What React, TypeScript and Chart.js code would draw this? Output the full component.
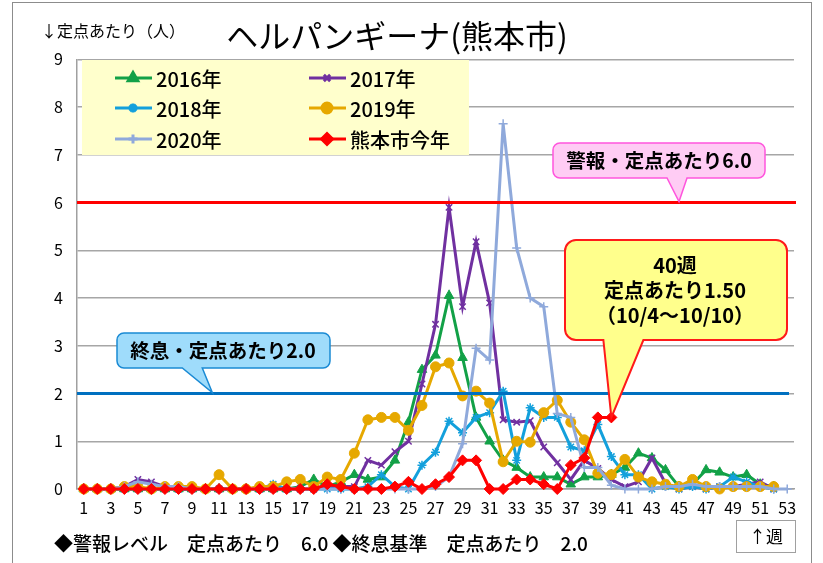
import React, { useEffect, useRef } from 'react';
import { Chart, registerables } from 'chart.js';
import { drawPoint } from 'chart.js/helpers';
Chart.register(...registerables);

const weeks = ['1','2','3','4','5','6','7','8','9','10','11','12','13','14','15','16','17','18','19','20','21','22','23','24','25','26','27','28','29','30','31','32','33','34','35','36','37','38','39','40','41','42','43','44','45','46','47','48','49','50','51','52','53'];

const y2016 = [0,0,0,0,0,0,0,0,0,0, 0,0,0,0,0,0,0.05,0.2,0.05,0.15, 0.3,0.2,0.25,0.6,1.4,2.5,2.8,4.05,2.75,1.5, 1.0,0.6,0.45,0.25,0.25,0.25,0.1,0.25,0.25,0.3, 0.45,0.75,0.65,0.4,0.05,0.1,0.4,0.35,0.25,0.3, 0.1,0.05];
const y2017 = [0,0,0,0.05,0.2,0.15,0.05,0,0,0, 0,0,0,0,0,0,0,0,0.05,0.05, 0.05,0.6,0.5,0.78,1.0,2.2,3.45,5.9,3.82,5.18, 3.9,1.45,1.4,1.43,0.88,0.55,0.2,0.6,0.43,0.2, 0.05,0.15,0.65,0.12,0,0.05,0,0.05,0.05,0.1, 0.15,0];
const y2018 = [0,0,0,0,0,0,0,0,0,0, 0,0,0,0,0.1,0,0,0,0,0, 0,0.05,0.3,0.05,0,0.5,0.77,1.42,1.18,1.5, 1.6,2.05,0.6,1.7,1.5,1.5,0.88,0.8,1.35,0.68, 0.3,0.3,0,0.05,0,0.05,0,0.05,0.25,0.15, 0.05,0];
const y2019 = [0,0,0,0.05,0.05,0,0.05,0.05,0.05,0, 0.3,0,0,0.05,0.05,0.15,0.2,0.05,0.25,0.2, 0.75,1.45,1.5,1.5,1.23,1.75,2.56,2.64,1.95,2.05, 1.8,0.57,1.0,0.98,1.6,1.86,1.4,1.03,0.33,0.3, 0.62,0.25,0.15,0.1,0.05,0.2,0.05,0,0.05,0.05, 0.05,0.05];
const y2020 = [0,0,0,0.05,0.15,0.1,0.05,0.05,0,0, 0,0,0,0,0,0,0,0,0,0, 0,0,0,0,0,0,0.05,0.25,0.95,2.95, 2.7,7.65,5.05,4.0,3.82,1.58,1.5,0.45,0.45,0.08, 0,0,0,0.05,0.05,0.1,0.05,0.05,0.05,0.05, 0.05,0,0];
const yCurrent = [0,0,0,0,0,0,0,0,0,0, 0,0,0,0,0,0,0,0,0.1,0.05, 0,0,0,0.05,0.15,0,0.1,0.25,0.6,0.6, 0,0,0.2,0.2,0.1,0,0.5,0.65,1.5,1.5];

const seriesLabels = ['2016年','2017年','2018年','2019年','2020年','熊本市今年'];
const yTickValues = [0,1,2,3,4,5,6,7,8,9];
const alertLevel = 6.0;
const endLevel = 2.0;
const titleText = 'ヘルパンギーナ(熊本市)';
const yAxisTitle = '↓定点あたり（人）';
const alertCallout = '警報・定点あたり6.0';
const endCallout = '終息・定点あたり2.0';
const currentCallout = ['40週', '定点あたり1.50', '（10/4～10/10）'];
const footerText = '◆警報レベル　定点あたり　6.0 ◆終息基準　定点あたり　2.0';
const weekLabel = '↑週';
const currentWeekIndex = 39;
const alertTipIndex = 44;
const endTipIndex = 9.5;

const FONT = '"Noto Sans CJK JP", "Noto Sans", sans-serif';

const styles = [
  { color: '#12a147', pointStyle: 'triangle', radius: 5.5, bw: 1 },
  { color: '#7030a0', pointStyle: 'crossRot', radius: 4.5, bw: 1.5 },
  { color: '#13a0dc', pointStyle: 'star', radius: 4.5, bw: 1.5 },
  { color: '#e6a800', pointStyle: 'circle', radius: 5, bw: 1 },
  { color: '#8fa9db', pointStyle: 'cross', radius: 4.5, bw: 1.5 },
  { color: '#ff0000', pointStyle: 'rectRot', radius: 5.5, bw: 1 },
];
const seriesData = [y2016, y2017, y2018, y2019, y2020, yCurrent];
const drawOrder = [5, 4, 3, 2, 1, 0];

function calloutPath(ctx: CanvasRenderingContext2D, x: number, y: number, w: number, h: number, r: number, b1: number, b2: number, tx: number, ty: number) {
  ctx.beginPath();
  ctx.moveTo(x + r, y);
  ctx.lineTo(x + w - r, y);
  ctx.arcTo(x + w, y, x + w, y + r, r);
  ctx.lineTo(x + w, y + h - r);
  ctx.arcTo(x + w, y + h, x + w - r, y + h, r);
  ctx.lineTo(b2, y + h);
  ctx.lineTo(tx, ty);
  ctx.lineTo(b1, y + h);
  ctx.lineTo(x + r, y + h);
  ctx.arcTo(x, y + h, x, y + h - r, r);
  ctx.lineTo(x, y + r);
  ctx.arcTo(x, y, x + r, y, r);
  ctx.closePath();
}

export default function App() {
  const ref = useRef<HTMLCanvasElement>(null);
  useEffect(() => {
    const canvas = ref.current!;
    const overlay = {
      id: 'overlay',
      afterDatasetsDraw(chart: any) {
        const ctx = chart.ctx as CanvasRenderingContext2D;
        const { left, right } = chart.chartArea;
        const ys = chart.scales.y;
        ctx.save();
        ctx.lineWidth = 3;
        ctx.strokeStyle = '#ff0000';
        ctx.beginPath();
        ctx.moveTo(left, ys.getPixelForValue(alertLevel));
        ctx.lineTo(right + 2, ys.getPixelForValue(alertLevel));
        ctx.stroke();
        ctx.strokeStyle = '#0070c0';
        ctx.beginPath();
        ctx.moveTo(left, ys.getPixelForValue(endLevel));
        ctx.lineTo(right - 5, ys.getPixelForValue(endLevel));
        ctx.stroke();
        ctx.restore();
      },
      afterDraw(chart: any) {
        const ctx = chart.ctx as CanvasRenderingContext2D;
        const xs = chart.scales.x;
        const ys = chart.scales.y;
        ctx.save();
        // frame
        ctx.strokeStyle = '#8c8c8c';
        ctx.lineWidth = 1;
        ctx.strokeRect(12.5, 2.5, 799, 580);

        // legend
        ctx.fillStyle = '#ffffcc';
        ctx.fillRect(82, 60, 387, 95);
        const cols = [115, 309];
        const rows = [78, 108, 139];
        for (let i = 0; i < 6; i++) {
          const cx = cols[i % 2];
          const cy = rows[Math.floor(i / 2)];
          const s = styles[i];
          ctx.strokeStyle = s.color;
          ctx.lineWidth = 3;
          ctx.beginPath();
          ctx.moveTo(cx, cy);
          ctx.lineTo(cx + 37, cy);
          ctx.stroke();
          ctx.fillStyle = s.color;
          ctx.strokeStyle = s.color;
          drawPoint(ctx, { pointStyle: s.pointStyle as any, radius: s.radius, rotation: 0, borderWidth: s.bw }, cx + 18, cy);
          ctx.fillStyle = '#000';
          ctx.font = `500 20px ${FONT}`;
          ctx.textBaseline = 'middle';
          ctx.textAlign = 'left';
          ctx.fillText(seriesLabels[i], cx + 41, cy + 1);
        }

        // y axis title
        ctx.fillStyle = '#000';
        ctx.font = `16px ${FONT}`;
        ctx.textBaseline = 'middle';
        ctx.textAlign = 'left';
        ctx.fillText(yAxisTitle, 41, 31);

        // alert callout
        const aTipX = xs.getPixelForValue(alertTipIndex);
        const aTipY = ys.getPixelForValue(alertLevel);
        calloutPath(ctx, 553, 143, 212, 35, 7, aTipX - 12, aTipX + 8, aTipX, aTipY - 1);
        ctx.fillStyle = '#ffccf4';
        ctx.fill();
        ctx.strokeStyle = '#ff55dd';
        ctx.lineWidth = 1.5;
        ctx.stroke();
        ctx.fillStyle = '#000';
        ctx.font = `bold 19.5px ${FONT}`;
        ctx.textAlign = 'center';
        ctx.fillText(alertCallout, 659, 161);

        // end callout
        const eTipX = xs.getPixelForValue(endTipIndex);
        const eTipY = ys.getPixelForValue(endLevel);
        calloutPath(ctx, 117, 333, 213, 35, 7, eTipX - 30, eTipX - 10, eTipX, eTipY - 1);
        ctx.fillStyle = '#9fdcfb';
        ctx.fill();
        ctx.strokeStyle = '#1a8ad4';
        ctx.lineWidth = 1.5;
        ctx.stroke();
        ctx.fillStyle = '#000';
        ctx.fillText(endCallout, 223, 351);

        // current callout
        const cTipX = xs.getPixelForValue(currentWeekIndex);
        const cTipY = ys.getPixelForValue(yCurrent[currentWeekIndex]);
        calloutPath(ctx, 565, 240, 222, 100, 11, cTipX - 8, cTipX + 32, cTipX, cTipY);
        ctx.fillStyle = '#ffff8c';
        ctx.fill();
        ctx.strokeStyle = '#ff1a1a';
        ctx.lineWidth = 2;
        ctx.stroke();
        ctx.fillStyle = '#000';
        ctx.font = `bold 20px ${FONT}`;
        ctx.fillText(currentCallout[0], 675, 265);
        ctx.fillText(currentCallout[1], 675, 290);
        ctx.fillText(currentCallout[2], 675, 315);

        // footer
        ctx.textAlign = 'left';
        ctx.font = `500 19px ${FONT}`;
        ctx.fillText(footerText, 54, 544);

        // week box
        ctx.strokeStyle = '#a0a0a0';
        ctx.lineWidth = 1;
        ctx.strokeRect(736.5, 520.5, 59, 32);
        ctx.textAlign = 'center';
        ctx.font = `17px ${FONT}`;
        ctx.fillText(weekLabel, 766, 537);
        ctx.restore();
      },
    };

    const datasets = seriesData.map((d, i) => ({
      label: seriesLabels[i],
      data: d,
      borderColor: styles[i].color,
      backgroundColor: styles[i].color,
      pointBackgroundColor: styles[i].color,
      pointBorderColor: styles[i].color,
      pointStyle: styles[i].pointStyle,
      pointRadius: styles[i].radius,
      pointBorderWidth: styles[i].bw,
      borderWidth: 3,
      tension: 0,
      order: drawOrder[i],
      clip: false as any,
    }));

    const chart = new Chart(canvas, {
      type: 'line',
      data: { labels: weeks, datasets },
      options: {
        responsive: false,
        animation: false,
        devicePixelRatio: 1,
        layout: { padding: { left: 0, right: 29, top: 0, bottom: 44 } },
        plugins: {
          legend: { display: false },
          tooltip: { enabled: false },
          title: {
            display: true,
            text: titleText,
            color: '#000',
            font: { family: FONT, size: 32, weight: 'normal' as any },
            padding: { top: 17, bottom: 4 },
          },
        },
        scales: {
          x: {
            type: 'category',
            offset: true,
            grid: { drawOnChartArea: false, drawTicks: false },
            border: { display: true, color: '#a0a0a0', width: 1.5 },
            ticks: {
              autoSkip: false,
              maxRotation: 0,
              minRotation: 0,
              padding: 9,
              color: '#000',
              font: { family: FONT, size: 16 },
              callback: (_v: any, i: number) => (i % 2 === 0 ? weeks[i] : ''),
            },
            afterFit: (s: any) => { s.height = 30; },
          },
          y: {
            min: 0,
            max: 9,
            afterBuildTicks: (s: any) => { s.ticks = yTickValues.map((v) => ({ value: v })); },
            grid: { color: '#a6a6a6', lineWidth: 1.5, drawTicks: false },
            border: { display: true, color: '#a0a0a0', width: 1.5 },
            ticks: {
              padding: 14,
              color: '#000',
              font: { family: FONT, size: 16 },
            },
            afterFit: (s: any) => { s.width = 77; },
          },
        },
      },
      plugins: [overlay],
    });
    return () => chart.destroy();
  }, []);
  return (
    <div style={{ position: 'absolute', left: 0, top: 0, width: 823, height: 563, background: '#fff' }}>
      <canvas ref={ref} width={823} height={563} style={{ display: 'block', width: 823, height: 563 }} />
    </div>
  );
}
